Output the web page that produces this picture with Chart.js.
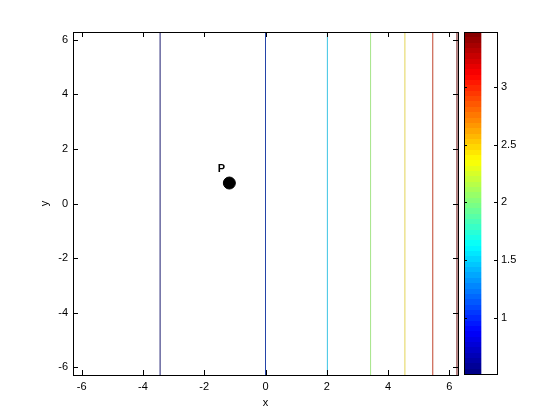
<!DOCTYPE html>
<html>
<head>
<meta charset="utf-8">
<script src="https://cdn.jsdelivr.net/npm/chart.js@4.4.1/dist/chart.umd.min.js"></script>
<style>
html,body{margin:0;padding:0;background:#fff;}
#wrap{position:relative;width:560px;height:420px;}
#main{position:absolute;left:0;top:0;}
#cbar{position:absolute;left:464px;top:0;}
</style>
</head>
<body>
<div id="wrap">
<canvas id="main" width="560" height="420"></canvas>
<canvas id="cbar" width="96" height="420"></canvas>
</div>
<script>
// ---- data ----
const contourX = [-3.44, 0, 2.02, 3.43, 4.55, 5.46, 6.25];
const contourLevels = [0.6, 0.9, 1.6, 2.1, 2.45, 3.15, 3.45];
const pointP = {x: -1.18, y: 0.75, label: 'P'};
const xTicks = [-6, -4, -2, 0, 2, 4, 6];
const yTicks = [-6, -4, -2, 0, 2, 4, 6];
const cbarRange = [0.51, 3.48];
const cbarTicks = [1, 1.5, 2, 2.5, 3];
const axisLimit = 2 * Math.PI;

// ---- styles ----
const contourColors = ['#1c1c70', '#2444a8', '#3cc4e4', '#a4e488', '#e4d458', '#c0442c', '#6a0a0a'];
const FONT = "'Liberation Sans', Arial, sans-serif";

function jet(t) {
  t = Math.max(0, Math.min(1, t));
  const r = Math.max(0, Math.min(1, Math.min(4 * t - 1.5, -4 * t + 4.5)));
  const g = Math.max(0, Math.min(1, Math.min(4 * t - 0.5, -4 * t + 3.5)));
  const b = Math.max(0, Math.min(1, Math.min(4 * t + 0.5, -4 * t + 2.5)));
  return 'rgb(' + Math.round(r * 255) + ',' + Math.round(g * 255) + ',' + Math.round(b * 255) + ')';
}

const datasets = contourX.map((x, i) => ({
  type: 'line',
  label: 'level ' + contourLevels[i],
  data: [{x: x, y: -axisLimit}, {x: x, y: axisLimit}],
  borderColor: contourColors[i],
  borderWidth: 1,
  pointRadius: 0,
  showLine: true,
  fill: false
}));
datasets.push({
  type: 'scatter',
  data: [{x: pointP.x, y: pointP.y}],
  backgroundColor: '#000',
  borderColor: '#000',
  pointRadius: 6,
  pointHoverRadius: 6
});

const frameTicks = {
  id: 'frameTicks',
  afterDraw(chart) {
    const ctx = chart.ctx;
    const a = chart.chartArea;
    const xs = chart.scales.x, ys = chart.scales.y;
    ctx.save();
    ctx.strokeStyle = '#000';
    ctx.lineWidth = 1;
    ctx.strokeRect(Math.round(a.left) + 0.5, Math.round(a.top) + 0.5, Math.round(a.right - a.left), Math.round(a.bottom - a.top));
    ctx.beginPath();
    const L = 5;
    xTicks.forEach(v => {
      const px = Math.round(xs.getPixelForValue(v)) + 0.5;
      ctx.moveTo(px, a.bottom); ctx.lineTo(px, a.bottom - L);
      ctx.moveTo(px, a.top); ctx.lineTo(px, a.top + L);
    });
    yTicks.forEach(v => {
      const py = Math.round(ys.getPixelForValue(v)) + 0.5;
      ctx.moveTo(a.left, py); ctx.lineTo(a.left + L, py);
      ctx.moveTo(a.right, py); ctx.lineTo(a.right - L, py);
    });
    ctx.stroke();
    const px = xs.getPixelForValue(pointP.x), py = ys.getPixelForValue(pointP.y);
    ctx.fillStyle = '#000';
    ctx.font = 'bold 11px ' + FONT;
    ctx.textAlign = 'center';
    ctx.textBaseline = 'middle';
    ctx.fillText(pointP.label, px - 8, py - 14);
    ctx.restore();
  }
};

new Chart(document.getElementById('main'), {
  type: 'scatter',
  data: {datasets: datasets},
  options: {
    responsive: false,
    animation: false,
    events: [],
    layout: {padding: {left: 38, top: 32, right: 102, bottom: 10}},
    plugins: {legend: {display: false}, tooltip: {enabled: false}},
    scales: {
      x: {
        type: 'linear', min: -axisLimit, max: axisLimit,
        afterBuildTicks: s => { s.ticks = xTicks.map(v => ({value: v})); },
        afterFit: s => { s.height = 35; },
        grid: {display: false, drawTicks: false},
        border: {display: false},
        ticks: {color: '#000', font: {family: FONT, size: 11}, padding: 5, maxRotation: 0},
        title: {display: true, text: 'x', color: '#000', font: {family: FONT, size: 11}, padding: {top: 2, bottom: 0}}
      },
      y: {
        type: 'linear', min: -axisLimit, max: axisLimit,
        afterBuildTicks: s => { s.ticks = yTicks.map(v => ({value: v})); },
        afterFit: s => { s.width = 35; },
        grid: {display: false, drawTicks: false},
        border: {display: false},
        ticks: {color: '#000', font: {family: FONT, size: 11}, padding: 5},
        title: {display: true, text: 'y', color: '#000', font: {family: FONT, size: 11}, padding: {top: 0, bottom: 0}}
      }
    }
  },
  plugins: [frameTicks]
});

// ---- colorbar ----
const cbarFrame = {
  id: 'cbarFrame',
  afterDraw(chart) {
    const ctx = chart.ctx;
    const a = chart.chartArea;
    const ys = chart.scales.y;
    ctx.save();
    ctx.strokeStyle = '#000';
    ctx.lineWidth = 1;
    ctx.strokeRect(Math.round(a.left) + 0.5, Math.round(a.top) + 0.5, Math.round(a.right - a.left) - 1, Math.round(a.bottom - a.top));
    ctx.beginPath();
    cbarTicks.forEach(v => {
      const py = Math.round(ys.getPixelForValue(v)) + 0.5;
      ctx.moveTo(a.right - 1, py); ctx.lineTo(a.right - 4, py);
      ctx.moveTo(a.left, py); ctx.lineTo(a.left + 3, py);
    });
    ctx.stroke();
    ctx.restore();
  }
};

new Chart(document.getElementById('cbar'), {
  type: 'bar',
  data: {
    labels: [''],
    datasets: [{
      data: [cbarRange],
      borderWidth: 0,
      barPercentage: 1,
      categoryPercentage: 1,
      backgroundColor: (c) => {
        const ch = c.chart;
        const a = ch.chartArea;
        if (!a) return '#000';
        const ys = ch.scales.y;
        const g = ch.ctx.createLinearGradient(0, ys.getPixelForValue(cbarRange[0]), 0, ys.getPixelForValue(cbarRange[1]));
        const n = 64;
        for (let i = 0; i < n; i++) {
          const col = jet((i + 0.5) / n);
          g.addColorStop(i / n, col);
          g.addColorStop((i + 1) / n, col);
        }
        return g;
      }
    }]
  },
  options: {
    responsive: false,
    animation: false,
    events: [],
    layout: {padding: {left: 0, top: 32, right: 0, bottom: 46}},
    plugins: {legend: {display: false}, tooltip: {enabled: false}},
    scales: {
      x: {display: false, offset: false},
      y: {
        position: 'right',
        min: cbarRange[0], max: cbarRange[1],
        afterBuildTicks: s => { s.ticks = cbarTicks.map(v => ({value: v})); },
        afterFit: s => { s.width = 62; },
        grid: {display: false, drawTicks: false},
        border: {display: false},
        ticks: {color: '#000', font: {family: FONT, size: 11}, padding: 3,
                callback: v => String(v)}
      }
    }
  },
  plugins: [cbarFrame]
});
</script>
</body>
</html>
